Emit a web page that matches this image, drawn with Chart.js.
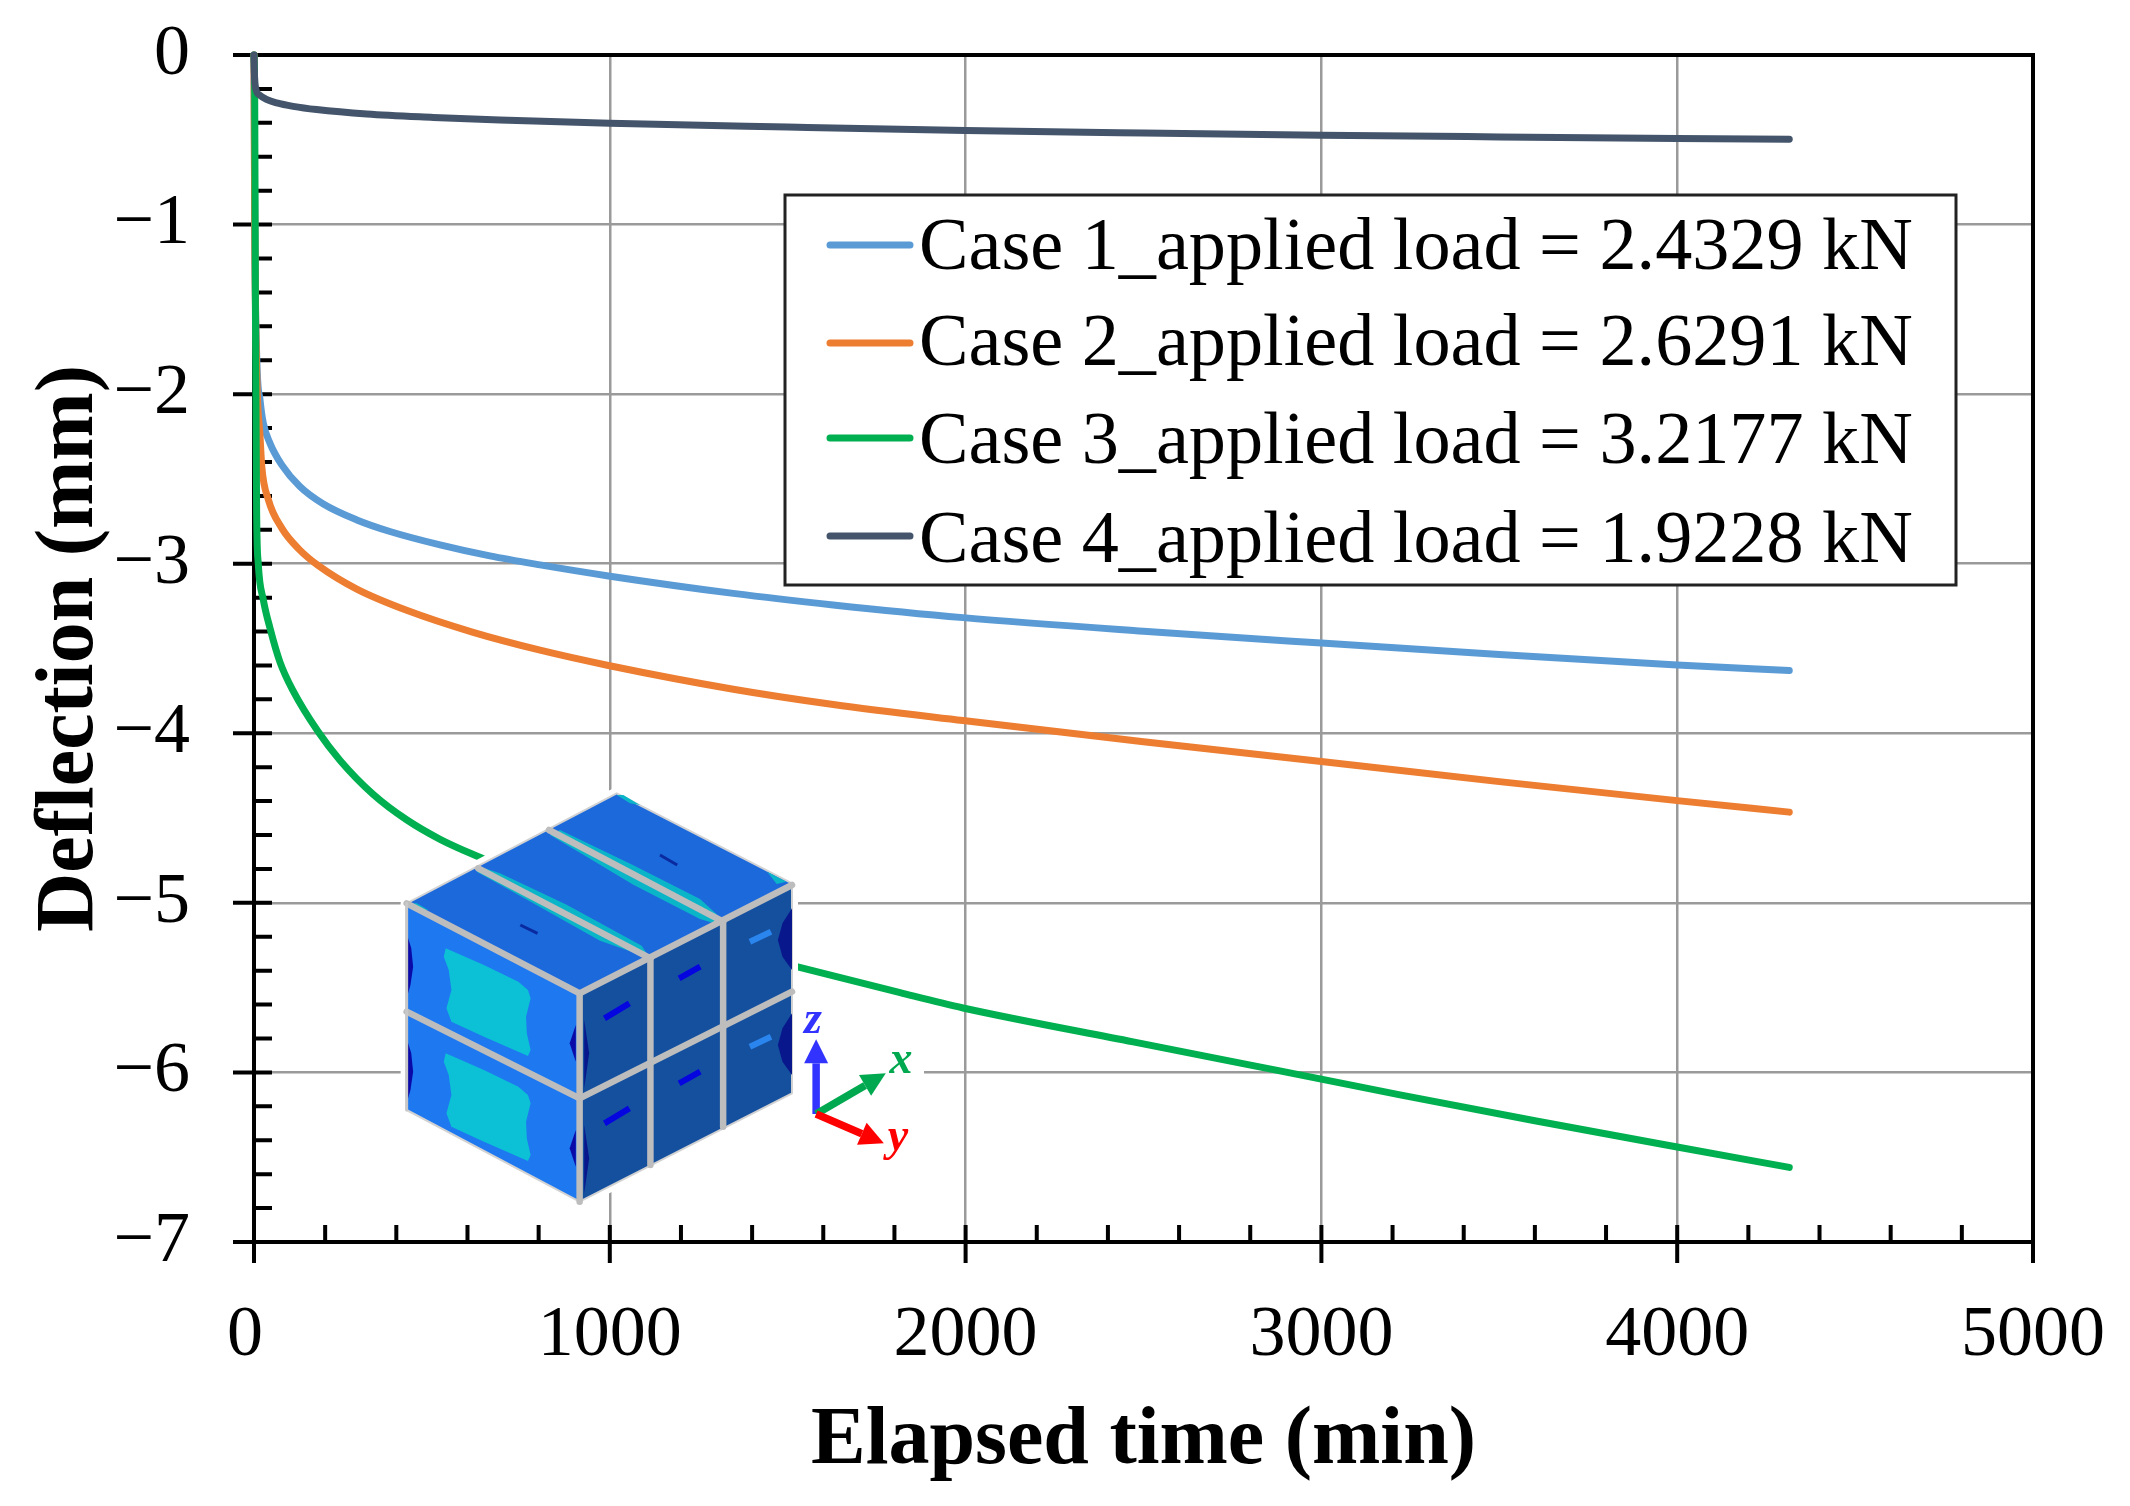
<!DOCTYPE html>
<html>
<head>
<meta charset="utf-8">
<title>Deflection vs elapsed time</title>
<style>html,body{margin:0;padding:0;background:#fff}canvas{display:block}</style>
<script src="https://cdn.jsdelivr.net/npm/chart.js@4/dist/chart.umd.min.js"></script>
</head>
<body>
<canvas id="c" width="2130" height="1506"></canvas>
<script>
// ---- data ----
const seriesNames = [
  'Case 1_applied load = 2.4329 kN',
  'Case 2_applied load = 2.6291 kN',
  'Case 3_applied load = 3.2177 kN',
  'Case 4_applied load = 1.9228 kN'
];
const case1Time = [0,2,8,17,26,45,78,129,195,289,382,523,663,804,996,1347,1628,1993,2500,3000,3500,4000,4315];
const case1Defl = [0,-1,-1.8,-2.035,-2.17,-2.29,-2.417,-2.545,-2.648,-2.742,-2.81,-2.889,-2.954,-3.007,-3.072,-3.175,-3.243,-3.318,-3.398,-3.468,-3.535,-3.597,-3.63];
const case2Time = [0,2,8,17,22,40,78,129,180,289,429,616,804,996,1347,1628,1993,2500,3000,3500,4000,4315];
const case2Defl = [0,-1,-1.9,-2.25,-2.43,-2.62,-2.79,-2.92,-3.01,-3.15,-3.275,-3.405,-3.51,-3.6,-3.74,-3.83,-3.925,-4.05,-4.166,-4.285,-4.397,-4.465];
const case3Time = [0,2,4,7.4,12,26,45,73,110,180,242,335,429,523,644,900,1200,1528,1816,1993,2471,2808,2996,3221,3600,4000,4315];
const case3Defl = [0,-0.25,-1.5,-2.7,-3.0,-3.21,-3.38,-3.58,-3.75,-3.99,-4.16,-4.36,-4.51,-4.625,-4.74,-4.97,-5.19,-5.377,-5.53,-5.62,-5.82,-5.96,-6.038,-6.132,-6.285,-6.44,-6.56];
const case4Time = [0,1,5,15,35,64,110,176,317,504,691,1000,1500,2000,2500,3000,3500,4000,4315];
const case4Defl = [0,-0.1,-0.2,-0.235,-0.262,-0.283,-0.303,-0.322,-0.348,-0.368,-0.384,-0.403,-0.425,-0.445,-0.46,-0.473,-0.483,-0.492,-0.497];
const seriesColors = ['#5B9BD5','#ED7D31','#00B050','#44546A'];
const xMajorStep = 1000, xMinorStep = 200, yMajorStep = 1, yMinorStep = 0.2;
const xTitle = 'Elapsed time (min)', yTitle = 'Deflection (mm)';

const pairs = (xs, ys) => xs.map((x, i) => ({x, y: ys[i]}));
const serif = "'Liberation Serif','Times New Roman',serif";

// tick marks and plot frame, placed by the scales
const framePlugin = {
  id: 'frame',
  beforeDatasetsDraw(chart) {
    const {ctx, chartArea: a, scales: {x, y}} = chart;
    ctx.save();
    ctx.strokeStyle = '#000';
    ctx.lineWidth = 4;
    ctx.beginPath();
    const n = Math.round(x.max / xMinorStep);
    for (let i = 0; i <= n; i++) {
      const px = x.getPixelForValue(i * xMinorStep);
      const major = i % Math.round(xMajorStep / xMinorStep) === 0;
      ctx.moveTo(px, a.bottom - 17);
      ctx.lineTo(px, a.bottom + (major ? 21 : 0));
    }
    const m = Math.round((y.max - y.min) / yMinorStep);
    for (let i = 0; i <= m; i++) {
      const py = y.getPixelForValue(y.max - i * yMinorStep);
      const major = i % Math.round(yMajorStep / yMinorStep) === 0;
      ctx.moveTo(a.left - (major ? 21 : 0), py);
      ctx.lineTo(a.left + 18, py);
    }
    ctx.stroke();
    ctx.strokeRect(a.left, a.top, a.right - a.left, a.bottom - a.top);
    ctx.restore();
  }
};

// inset illustration (finite-element block with x/y/z triad)
const insetPlugin = {
  id: 'inset',
  afterDatasetsDraw(chart) {
    const ctx = chart.ctx;
    const X = v => 350 + v / 2.613, Y = v => 760 + v / 3;
    const path = pts => {
      ctx.beginPath();
      pts.forEach((p, i) => i ? ctx.lineTo(X(p[0]), Y(p[1])) : ctx.moveTo(X(p[0]), Y(p[1])));
      ctx.closePath();
    };
    const poly = (pts, fill) => { path(pts); ctx.fillStyle = fill; ctx.fill(); };
    // second set of strips was measured on a closer crop
    const crop = pts => pts.map(p => [130.65 + 0.871 * p[0], 90 + p[1]]);
    const seg = (a, b, c, d, col, w) => {
      ctx.beginPath(); ctx.moveTo(X(a), Y(b)); ctx.lineTo(X(c), Y(d));
      ctx.strokeStyle = col; ctx.lineWidth = w; ctx.stroke();
    };
    const outline = [[148,430],[697,100],[1155,370],[1155,1000],[600,1325],[148,1050]];
    ctx.save();
    // white backing
    ctx.fillStyle = '#fff';
    ctx.fillRect(798, 1008, 126, 160);
    ctx.lineJoin = 'round';
    path(outline);
    ctx.strokeStyle = '#fff'; ctx.lineWidth = 12; ctx.stroke();
    // faces
    poly([[148,430],[697,100],[1155,370],[600,700]], '#1C69DC');
    poly([[148,430],[600,700],[600,1325],[148,1050]], '#1E78F0');
    poly([[600,700],[1155,370],[1155,1000],[600,1325]], '#15509E');
    path(outline);
    ctx.strokeStyle = '#D2D2D2'; ctx.lineWidth = 2; ctx.stroke();
    // teal strips on the top face
    const teal = '#0BB5C8';
    poly(crop([[245,232],[300,250],[500,344],[725,467],[750,505],[600,452],[400,340],[230,245]]), teal);
    poly(crop([[480,120],[700,226],[900,327],[950,373],[960,405],[900,387],[700,284],[560,200],[450,135]]), teal);
    poly(crop([[650,15],[670,15],[720,45],[690,40]]), teal);
    poly(crop([[30,340],[50,340],[85,360],[55,358]]), teal);
    poly([[1090,335],[1140,365],[1115,372]], teal);
    poly([[560,670],[590,685],[600,700],[575,690]], teal);
    // teal patches on the left face
    [0, 315].forEach(d => poly([[250,565+d],[350,615+d],[440,665+d],[465,690+d],[472,715+d],[460,770+d],[462,820+d],[472,870+d],[465,888+d],[350,830+d],[265,785+d],[252,745+d],[265,690+d],[258,630+d],[245,590+d]], '#0CC0D5'));
    // dark crescents
    [0, 315].forEach(d => {
      poly([[148,520+d],[160,565+d],[165,620+d],[158,675+d],[148,715+d]], '#0A0AA8');
      poly([[590,795+d],[574,850+d],[590,905+d]], '#0A0AA8');
      poly([[612,780+d],[625,880+d],[612,985+d]], '#08188C');
      poly([[1155,445+d],[1130,490+d],[1118,540+d],[1130,590+d],[1155,630+d]], '#08188C');
      seg(665,775+d,730,730+d,'#0505E0',6);
      seg(860,655+d,915,620+d,'#0505E0',6);
      seg(1045,545+d,1100,515+d,'#2A86EE',6);
    });
    seg(445,495,490,520,'#0A2AA0',3);
    seg(810,285,855,315,'#0A2AA0',3);
    // grey element edges
    ctx.lineCap = 'round';
    const edge = (a,b,c,d) => seg(a,b,c,d,'#BDBDBD',6.5);
    edge(148,430,600,700); edge(600,700,1155,375); edge(600,700,600,1325);
    edge(148,755,600,1015); edge(600,1015,1155,695);
    edge(785,595,785,1215); edge(975,485,975,1100);
    edge(785,595,335,325); edge(975,485,520,210);
    seg(148,430,148,1050,'#C8C8C8',3);
    ctx.lineCap = 'butt';
    // triad
    const arrow = (a,b,c,d,col) => {
      const dx = X(c)-X(a), dy = Y(d)-Y(b), L = Math.hypot(dx,dy), ux = dx/L, uy = dy/L;
      const tx = X(c), ty = Y(d), hl = 24, hw = 12;
      ctx.beginPath(); ctx.moveTo(X(a),Y(b)); ctx.lineTo(tx-ux*hl, ty-uy*hl);
      ctx.strokeStyle = col; ctx.lineWidth = 7.5; ctx.stroke();
      ctx.beginPath(); ctx.moveTo(tx,ty);
      ctx.lineTo(tx-ux*hl-uy*hw, ty-uy*hl+ux*hw);
      ctx.lineTo(tx-ux*hl+uy*hw, ty-uy*hl-ux*hw);
      ctx.closePath(); ctx.fillStyle = col; ctx.fill();
    };
    arrow(1218,1062,1218,838,'#3333FF');
    arrow(1218,1062,1400,940,'#00A84F');
    arrow(1218,1062,1395,1150,'#FF0000');
    ctx.font = "italic bold 46px " + serif;
    ctx.textAlign = 'center'; ctx.textBaseline = 'alphabetic';
    ctx.fillStyle = '#3333FF'; ctx.fillText('z', X(1210), Y(818));
    ctx.fillStyle = '#00A84F'; ctx.fillText('x', X(1440), Y(940));
    ctx.fillStyle = '#FF0000'; ctx.fillText('y', X(1432), Y(1170));
    ctx.restore();
  }
};

// boxed legend placed inside the plot
const legendPlugin = {
  id: 'boxLegend',
  afterDraw(chart) {
    const ctx = chart.ctx;
    const swatchY = [245, 343, 438, 536], baseY = [269, 365, 463, 562];
    ctx.save();
    ctx.fillStyle = '#fff';
    ctx.fillRect(785, 195, 1171, 390);
    ctx.strokeStyle = '#222'; ctx.lineWidth = 3;
    ctx.strokeRect(785, 195, 1171, 390);
    ctx.font = '74.2px ' + serif;
    ctx.textAlign = 'left'; ctx.textBaseline = 'alphabetic';
    chart.data.datasets.forEach((d, i) => {
      ctx.strokeStyle = d.borderColor; ctx.lineWidth = 7; ctx.lineCap = 'round';
      ctx.beginPath(); ctx.moveTo(830, swatchY[i]); ctx.lineTo(910, swatchY[i]); ctx.stroke();
      ctx.fillStyle = '#000';
      ctx.fillText(d.label, 919, baseY[i]);
    });
    ctx.restore();
  }
};

const mk = (i, xs, ys) => ({
  label: seriesNames[i],
  data: pairs(xs, ys),
  borderColor: seriesColors[i],
  backgroundColor: seriesColors[i],
  borderWidth: 7,
  pointRadius: 0,
  cubicInterpolationMode: 'monotone',
  borderCapStyle: 'round',
  clip: false,
  order: 4 - i
});

// tick-label padding must not push the plot area in from the canvas edges
const noScalePadding = s => { s.paddingTop = s.paddingBottom = s.paddingLeft = s.paddingRight = 0; };

Chart.defaults.devicePixelRatio = 1;
new Chart(document.getElementById('c'), {
  type: 'line',
  data: {datasets: [
    mk(0, case1Time, case1Defl),
    mk(1, case2Time, case2Defl),
    mk(2, case3Time, case3Defl),
    mk(3, case4Time, case4Defl)
  ]},
  options: {
    responsive: false,
    animation: false,
    devicePixelRatio: 1,
    layout: {padding: {top: 55, right: 97, left: 0, bottom: 0}},
    plugins: {legend: {display: false}, tooltip: {enabled: false}},
    scales: {
      x: {
        type: 'linear', min: 0, max: 5000,
        afterFit(s) { s.height = 264; noScalePadding(s); },
        grid: {color: '#9A9A9A', lineWidth: 2.5, drawTicks: false},
        border: {display: false},
        ticks: {stepSize: xMajorStep, color: '#000', maxRotation: 0, padding: 51,
                font: {family: serif, size: 72},
                callback: v => (v === 0 ? '0\u00A0' : String(v))},
        title: {display: true, text: xTitle, color: '#000', padding: {top: 15, bottom: 15},
                font: {family: serif, size: 82, weight: 'bold'}}
      },
      y: {
        type: 'linear', min: -7, max: 0,
        afterFit(s) { s.width = 254; noScalePadding(s); },
        grid: {color: '#9A9A9A', lineWidth: 2.5, drawTicks: false},
        border: {display: false},
        ticks: {stepSize: yMajorStep, color: '#000', padding: 64,
                font: {family: serif, size: 72},
                callback: v => (v < 0 ? '\u2212' + Math.abs(v) : String(v))},
        title: {display: true, text: yTitle, color: '#000', padding: {top: 22, bottom: 22},
                font: {family: serif, size: 82, weight: 'bold'}}
      }
    }
  },
  plugins: [framePlugin, insetPlugin, legendPlugin]
});
</script>
</body>
</html>
